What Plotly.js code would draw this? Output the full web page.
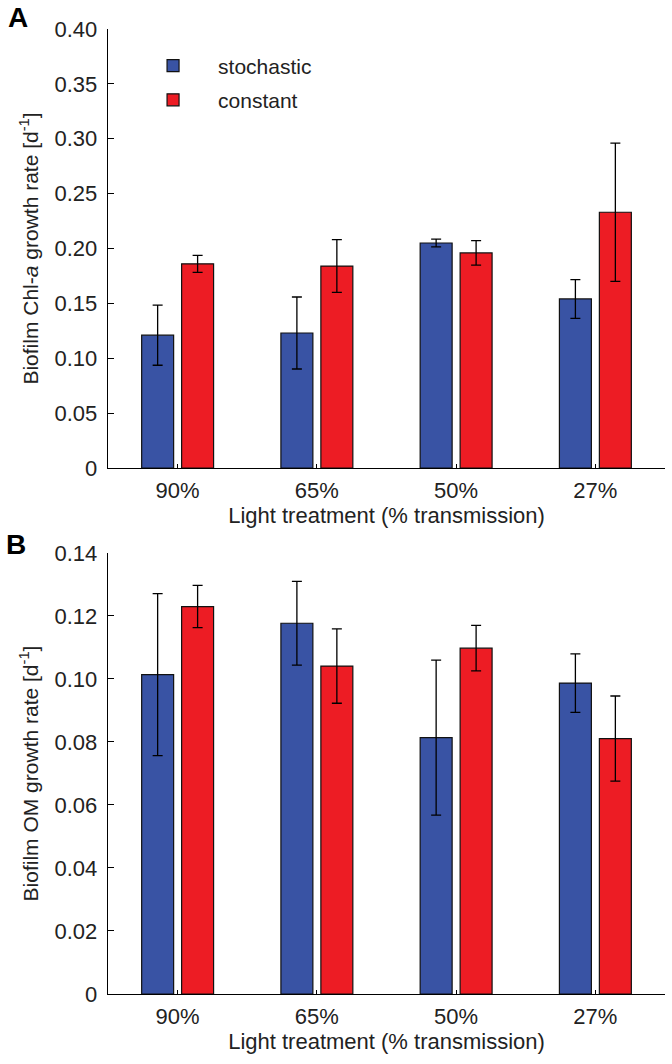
<!DOCTYPE html>
<html>
<head>
<meta charset="utf-8">
<script src="https://cdn.plot.ly/plotly-3.0.1.min.js"></script>
<style>html,body{margin:0;padding:0;background:#fff;}#chart{width:672px;height:1064px;}</style>
</head>
<body>
<div id="chart"></div>
<script>
// Categories (light treatment, % transmission)
const categories = ['90%', '65%', '50%', '27%'];

// Panel A: Biofilm Chl-a growth rate [d-1]
const chlStochastic    = [0.121, 0.123, 0.205, 0.154];
const chlStochasticErr = [0.0274, 0.0328, 0.0036, 0.0177];
const chlConstant      = [0.186, 0.184, 0.196, 0.233];
const chlConstantErr   = [0.0078, 0.0240, 0.0112, 0.0630];

// Panel B: Biofilm OM growth rate [d-1]
const omStochastic    = [0.1014, 0.1177, 0.0814, 0.0987];
const omStochasticErr = [0.0257, 0.0133, 0.0246, 0.0093];
const omConstant      = [0.1230, 0.1041, 0.1098, 0.0811];
const omConstantErr   = [0.0067, 0.0118, 0.0072, 0.0135];

// Tick labels
const tickValsA = [0, 0.05, 0.10, 0.15, 0.20, 0.25, 0.30, 0.35, 0.40];
const tickTextA = ['0', '0.05', '0.10', '0.15', '0.20', '0.25', '0.30', '0.35', '0.40'];
const tickValsB = [0, 0.02, 0.04, 0.06, 0.08, 0.10, 0.12, 0.14];
const tickTextB = ['0', '0.02', '0.04', '0.06', '0.08', '0.10', '0.12', '0.14'];

const BLUE = '#3953a4';
const RED = '#ed1c24';
const FONT = 'Liberation Sans, Arial, Helvetica, sans-serif';

function errCfg(arr) {
  return {type: 'data', array: arr, visible: true, color: '#000', thickness: 1.3, width: 5};
}
function barTrace(name, y, err, color, xa, ya, showlegend) {
  return {
    type: 'bar', name: name, x: categories, y: y,
    xaxis: xa, yaxis: ya,
    marker: {color: color, line: {color: '#111', width: 1.2}},
    error_y: errCfg(err),
    legendgroup: name, showlegend: showlegend,
    hoverinfo: 'x+y'
  };
}

const data = [
  barTrace('stochastic', chlStochastic, chlStochasticErr, BLUE, 'x', 'y', true),
  barTrace('constant', chlConstant, chlConstantErr, RED, 'x', 'y', true),
  barTrace('stochastic', omStochastic, omStochasticErr, BLUE, 'x2', 'y2', false),
  barTrace('constant', omConstant, omConstantErr, RED, 'x2', 'y2', false)
];

function xAxis(anchor) {
  return {
    anchor: anchor, domain: [0, 1], type: 'category', range: [-0.5, 3.5],
    showline: true, linecolor: '#000', linewidth: 1.3, mirror: false,
    ticks: 'inside', ticklen: 4, tickcolor: '#000', tickwidth: 1,
    showgrid: false, zeroline: false,
    tickfont: {family: FONT, size: 22, color: '#222'},
    ticklabelstandoff: 2,
    title: {text: 'Light treatment (% transmission)', font: {family: FONT, size: 22, color: '#222'}, standoff: 5},
    automargin: false, fixedrange: true
  };
}
function yAxis(anchor, domain, range, tv, tt, title) {
  return {
    anchor: anchor, domain: domain, range: range,
    tickmode: 'array', tickvals: tv, ticktext: tt,
    showline: true, linecolor: '#000', linewidth: 1.3,
    ticks: 'inside', ticklen: 6, tickcolor: '#000', tickwidth: 1,
    showgrid: false, zeroline: false,
    tickfont: {family: FONT, size: 22, color: '#222'},
    ticklabelstandoff: 5,
    title: {text: title, font: {family: FONT, size: 21, color: '#222'}, standoff: 10},
    automargin: false, fixedrange: true
  };
}

const layout = {
  width: 672, height: 1064,
  margin: {l: 108, r: 7, t: 29, b: 70},
  paper_bgcolor: '#fff', plot_bgcolor: '#fff',
  font: {family: FONT, color: '#222'},
  barmode: 'group', bargap: 0.426, bargroupgap: 0.2,
  xaxis: xAxis('y'),
  xaxis2: xAxis('y2'),
  yaxis: yAxis('x', [0.5451, 1], [0, 0.40], tickValsA, tickTextA, 'Biofilm Chl-<i>a</i> growth rate [d<sup>-1</sup>]'),
  yaxis2: yAxis('x2', [0, 0.457], [0, 0.14], tickValsB, tickTextB, 'Biofilm OM growth rate [d<sup>-1</sup>]'),
  showlegend: true,
  legend: {
    x: 0.036, y: 0.983, xanchor: 'left', yanchor: 'top',
    bgcolor: 'rgba(0,0,0,0)', borderwidth: 0,
    font: {family: FONT, size: 21, color: '#222'},
    itemwidth: 80, tracegroupgap: 4
  },
  annotations: [
    {text: '<b>A</b>', xref: 'paper', yref: 'paper', x: -0.162, y: 1.0124, xanchor: 'center', yanchor: 'middle', showarrow: false, font: {family: FONT, size: 28, color: '#000'}},
    {text: '<b>B</b>', xref: 'paper', yref: 'paper', x: -0.165, y: 0.4663, xanchor: 'center', yanchor: 'middle', showarrow: false, font: {family: FONT, size: 28, color: '#000'}}
  ]
};

Plotly.newPlot('chart', data, layout, {displayModeBar: false, staticPlot: true});
</script>
</body>
</html>
